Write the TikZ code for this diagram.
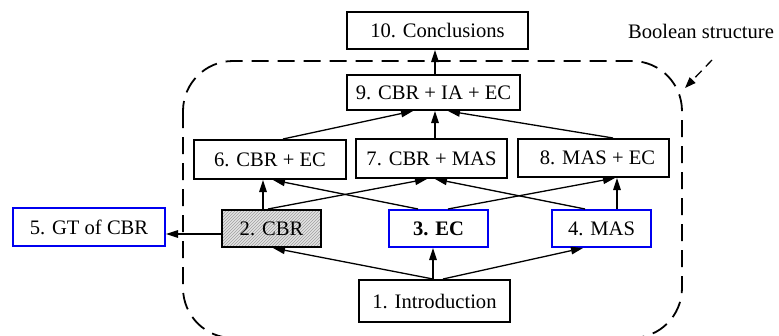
\documentclass[tikz,border=0pt]{standalone}
\usepackage{fontspec}
\setmainfont{Liberation Serif}
\usetikzlibrary{arrows.meta,patterns}
\definecolor{boxblue}{RGB}{0,0,240}
\begin{document}
\begin{tikzpicture}[x=1pt,y=-1pt,
  box/.style={draw=black,line width=2pt,fill=white,inner sep=0pt,
    font=\fontsize{20.6}{24}\selectfont},
  bluebox/.style={box,draw=boxblue},
  hatched/.style={box,preaction={fill=gray!22},pattern=north east lines,pattern color=gray!75},
  conn/.style={line width=1.3pt,-{Triangle[length=12pt,width=7.5pt]}},
  bdash/.style={line width=1.8pt,dash pattern=on 17pt off 9pt}
]
\useasboundingbox (0,0) rectangle (779,335);
\clip (0,0) rectangle (779,335);

% dashed boolean-structure region
\draw[bdash,rounded corners=50pt] (183,61) rectangle (682,338);

\node[box,minimum width=181pt,minimum height=37pt] (n10) at (437.5,30.5) {10. Conclusions};
\node[box,minimum width=173pt,minimum height=35pt] (n9) at (433.5,92.5) {9. CBR + IA + EC};
\node[box,minimum width=152pt,minimum height=39pt] (n6) at (270,159.5) {6. CBR + EC};
\node[box,minimum width=151pt,minimum height=39pt] (n7) at (431.5,158.5) {7. CBR + MAS};
\node[box,minimum width=151pt,minimum height=38pt] (n8) at (593.5,158) {\hspace{8pt}8. MAS + EC};
\node[bluebox,minimum width=152pt,minimum height=38pt] (n5) at (89,227) {5. GT of CBR};
\node[hatched,minimum width=99pt,minimum height=37pt] (n2) at (271.5,228.5) {2. CBR};
\node[bluebox,minimum width=99pt,minimum height=37pt] (n3) at (438.5,228.5) {\textbf{3. EC}};
\node[bluebox,minimum width=99pt,minimum height=37pt] (n4) at (601.5,228.5) {4. MAS};
\node[box,minimum width=151pt,minimum height=42pt] (n1) at (434.5,301) {1. Introduction};

\node[font=\fontsize{20.6}{24}\selectfont,inner sep=0pt] (lbl) at (701,31) {Boolean structure};
\coordinate (bs0) at (712,60);
\coordinate (bs1) at (685,88);
\draw[line width=1.3pt,dash pattern=on 9pt off 6pt,-{Triangle[length=11pt,width=8pt]}] (bs0) -- (bs1);

% connectors
\draw[conn] ([xshift=1.5pt]n9.north) -- ([xshift=1.5pt]n9.north |- n10.south);
\draw[conn] ([xshift=13pt]n6.north) -- ([xshift=-20.5pt]n9.south);
\draw[conn] ([xshift=3.5pt]n7.north) -- ([xshift=3.5pt]n7.north |- n9.south);
\draw[conn] ([xshift=19.5pt]n8.north) -- ([xshift=14.5pt]n9.south);

\draw[conn] ([xshift=-8.5pt]n2.north) -- ([xshift=-8.5pt]n2.north |- n6.south);
\draw[conn] ([xshift=-20.5pt]n3.north) -- ([xshift=3pt]n6.south);
\draw[conn] ([xshift=-3.5pt]n2.north) -- ([xshift=-4.5pt]n7.south);
\draw[conn] ([xshift=-16.5pt]n4.north) -- ([xshift=3.5pt]n7.south);
\draw[conn] ([xshift=9.5pt]n3.north) -- ([xshift=21.5pt]n8.south);
\draw[conn] ([xshift=15.5pt]n4.north) -- ([xshift=15.5pt]n4.north |- n8.south);

\draw[conn] ([yshift=-5.5pt]n2.west) -- ([yshift=-5.5pt]n2.west -| n5.east);

\draw[conn] ([xshift=-1.5pt]n1.north) -- ([xshift=1.5pt]n2.south);
\draw[conn] ([xshift=-1.5pt]n1.north) -- ([xshift=-1.5pt]n1.north |- n3.south);
\draw[conn] ([xshift=8.5pt]n1.north) -- ([xshift=-18.5pt]n4.south);
\end{tikzpicture}
\end{document}
